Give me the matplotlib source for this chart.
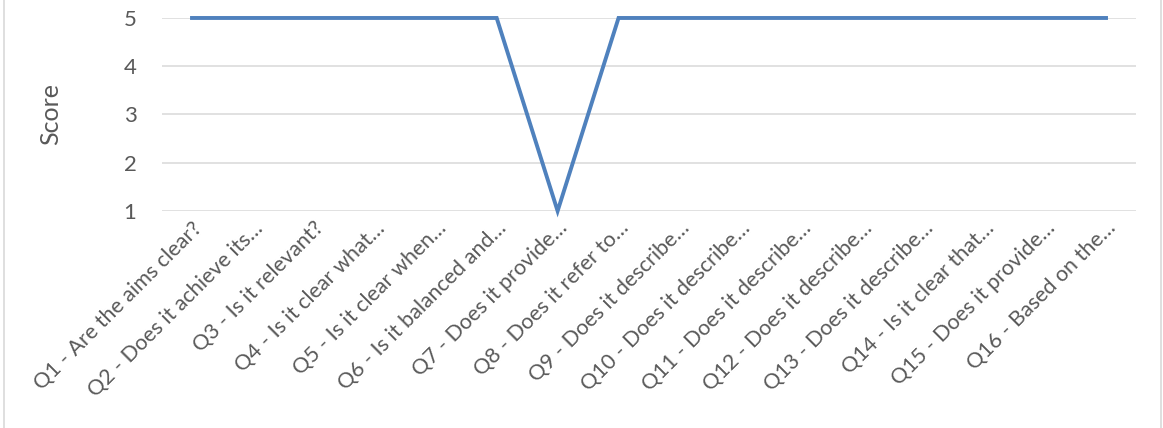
import matplotlib
matplotlib.use("Agg")
import matplotlib.pyplot as plt
from matplotlib.lines import Line2D

questions = [
    "Q1 - Are the aims clear?",
    "Q2 - Does it achieve its…",
    "Q3 - Is it relevant?",
    "Q4 - Is it clear what…",
    "Q5 - Is it clear when…",
    "Q6 - Is it balanced and…",
    "Q7 - Does it provide…",
    "Q8 - Does it refer to…",
    "Q9 - Does it describe…",
    "Q10 - Does it describe…",
    "Q11 - Does it describe…",
    "Q12 - Does it describe…",
    "Q13 - Does it describe…",
    "Q14 - Is it clear that…",
    "Q15 - Does it provide…",
    "Q16 - Based on the…",
]
scores = [5, 5, 5, 5, 5, 5, 1, 5, 5, 5, 5, 5, 5, 5, 5, 5]
y_ticks = [1, 2, 3, 4, 5]

TEXT = "#595959"
plt.rcParams["font.family"] = ["Lato", "DejaVu Sans"]

fig = plt.figure(figsize=(11.63, 4.28), dpi=100)
ax = fig.add_axes([0.1389, 0.507, 0.9772 - 0.1389, 0.958 - 0.507])

x = list(range(len(questions)))
ax.plot(x, scores, color="#4F81BD", linewidth=2.8, clip_on=False,
        solid_joinstyle="miter", zorder=3)

ax.set_xlim(-0.5, len(questions) - 0.5)
ax.set_ylim(1, 5)
ax.set_yticks(y_ticks)
ax.set_xticks(x)
ax.set_xticklabels(questions, rotation=45, ha="right", va="top",
                   rotation_mode="anchor", fontsize=15.5, color=TEXT)
ax.tick_params(axis="y", labelsize=16, colors=TEXT, length=0, pad=18)
ax.tick_params(axis="x", length=0, pad=5)
ax.grid(axis="y", color="#D9D9D9", linewidth=1.1)
ax.set_axisbelow(True)
for s in ax.spines.values():
    s.set_visible(False)

ax.set_ylabel("Score", fontsize=18, color=TEXT, labelpad=44)

# faint chart-area border on left/right edges
fig.add_artist(Line2D([4 / 1163, 4 / 1163], [0, 1], color="#D9D9D9", linewidth=1.2))
fig.add_artist(Line2D([1161 / 1163, 1161 / 1163], [0, 1], color="#D9D9D9", linewidth=1.2))

fig.savefig("out.png", dpi=100)
